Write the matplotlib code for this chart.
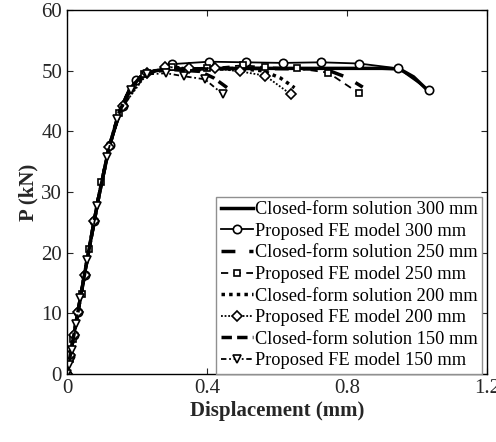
import matplotlib
matplotlib.use("Agg")
import matplotlib.pyplot as plt

plt.rcParams['font.family'] = ['Liberation Serif', 'DejaVu Serif']

# Closed-form solutions
cf300_x = [0, 0.03, 0.06, 0.09, 0.12, 0.15, 0.18, 0.21, 0.25, 0.30, 0.50, 0.70, 0.90, 0.95, 0.99, 1.03]
cf300_y = [0, 9.8, 19.6, 29.0, 37.3, 43.3, 47.0, 49.0, 50.0, 50.3, 50.4, 50.4, 50.4, 50.3, 49.0, 46.8]
cf250_x = [0, 0.03, 0.06, 0.09, 0.12, 0.15, 0.18, 0.21, 0.25, 0.30, 0.50, 0.70, 0.75, 0.80, 0.845]
cf250_y = [0, 9.8, 19.6, 29.0, 37.3, 43.3, 47.0, 49.0, 50.0, 50.3, 50.4, 50.3, 50.0, 48.9, 47.3]
cf200_x = [0, 0.03, 0.06, 0.09, 0.12, 0.15, 0.18, 0.21, 0.25, 0.30, 0.50, 0.56, 0.61, 0.65]
cf200_y = [0, 9.8, 19.6, 29.0, 37.3, 43.3, 47.0, 49.0, 50.0, 50.3, 50.3, 50.0, 48.8, 47.2]
cf150_x = [0, 0.03, 0.06, 0.09, 0.12, 0.15, 0.18, 0.21, 0.25, 0.30, 0.38, 0.42, 0.465]
cf150_y = [0, 9.8, 19.6, 29.0, 37.3, 43.3, 47.0, 49.0, 49.9, 50.2, 49.9, 48.8, 46.9]

# Proposed FE model
fe300_x = [0, 0.01, 0.02, 0.032, 0.051, 0.077, 0.123, 0.16, 0.197, 0.30, 0.406, 0.51, 0.617, 0.726, 0.834, 0.946, 1.034]
fe300_y = [0, 3.0, 6.4, 10.2, 16.3, 25.2, 37.7, 44.2, 48.4, 51.1, 51.5, 51.4, 51.3, 51.4, 51.2, 50.4, 46.8]
fe250_x = [0, 0.008, 0.018, 0.042, 0.064, 0.096, 0.149, 0.22, 0.30, 0.40, 0.503, 0.566, 0.657, 0.746, 0.834]
fe250_y = [0, 2.5, 5.8, 13.2, 20.6, 31.7, 43.0, 49.4, 50.7, 50.4, 50.9, 50.6, 50.4, 49.7, 46.3]
fe200_x = [0, 0.01, 0.02, 0.032, 0.051, 0.077, 0.12, 0.16, 0.23, 0.28, 0.35, 0.423, 0.494, 0.566, 0.64]
fe200_y = [0, 3.2, 6.4, 10.2, 16.3, 25.2, 37.5, 44.2, 49.6, 50.6, 50.5, 50.4, 49.9, 49.2, 46.1]
fe150_x = [0, 0.005, 0.013, 0.026, 0.038, 0.058, 0.087, 0.113, 0.143, 0.182, 0.23, 0.283, 0.334, 0.394, 0.446]
fe150_y = [0, 1.5, 4.0, 8.2, 12.5, 18.8, 27.7, 35.8, 42.1, 46.8, 49.4, 49.6, 49.1, 48.6, 46.1]

labels = ['Closed-form solution 300 mm', 'Proposed FE model 300 mm',
          'Closed-form solution 250 mm', 'Proposed FE model 250 mm',
          'Closed-form solution 200 mm', 'Proposed FE model 200 mm',
          'Closed-form solution 150 mm', 'Proposed FE model 150 mm']

xticks = [0, 0.4, 0.8, 1.2]
xticklabels = ['0', '0.4', '0.8', '1.2']
yticks = [0, 10, 20, 30, 40, 50, 60]

fig = plt.figure(figsize=(4.96, 4.42), dpi=100)
ax = fig.add_axes([0.135, 0.154, 0.847, 0.823])

mk = dict(markerfacecolor='white', markeredgecolor='black', markeredgewidth=1.2, markersize=6)
ax.plot(cf300_x, cf300_y, color='black', lw=2.5, ls='-', label=labels[0])
ax.plot(fe300_x, fe300_y, color='black', lw=1.3, ls='-', marker='o', label=labels[1], **mk)
ax.plot(cf250_x, cf250_y, color='black', lw=2.5, ls=(0, (4, 4)), label=labels[2])
ax.plot(fe250_x, fe250_y, color='black', lw=1.3, ls=(0, (4, 3)), marker='s', label=labels[3], **dict(mk, markersize=4.5))
ax.plot(cf200_x, cf200_y, color='black', lw=2.5, ls=(0, (1, 1.2)), label=labels[4])
ax.plot(fe200_x, fe200_y, color='black', lw=1.3, ls=(0, (1, 1)), marker='D', label=labels[5], **dict(mk, markersize=4.8))
ax.plot(cf150_x, cf150_y, color='black', lw=2.5, ls=(0, (3, 1.5)), label=labels[6])
ax.plot(fe150_x, fe150_y, color='black', lw=1.3, ls=(0, (3, 1.5, 1, 1.5)), marker='v', label=labels[7], **mk)

ax.set_xlim(0, 1.2)
ax.set_ylim(0, 60)
ax.set_xticks(xticks)
ax.set_xticklabels(xticklabels)
ax.set_yticks(yticks)
ax.tick_params(direction='in', top=True, right=True, labelsize=15, length=4, colors='#262626', labelcolor='#262626')
for s in ax.spines.values():
    s.set_linewidth(1.0)
ax.set_xlabel('Displacement (mm)', fontsize=15, fontweight='bold', color='#262626', labelpad=2)
ax.set_ylabel('P (kN)', fontsize=15, fontweight='bold', color='#262626', labelpad=2)

leg = ax.legend(loc='lower right', bbox_to_anchor=(0.988, 0.0), borderaxespad=0, fontsize=13.2,
                handlelength=1.75, handletextpad=0.1, labelspacing=0.25, borderpad=0.25,
                fancybox=False, framealpha=1, edgecolor='#909090')
leg.get_frame().set_linewidth(1.0)

fig.savefig('out.png', dpi=100)
